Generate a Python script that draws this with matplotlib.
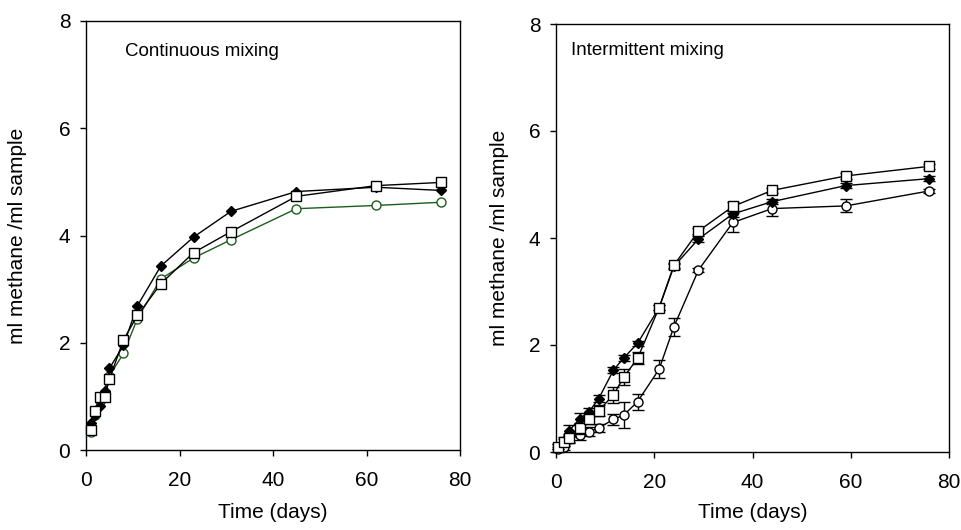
import matplotlib
matplotlib.use("Agg")
import matplotlib.pyplot as plt

plt.rcParams['font.family'] = ['Liberation Sans', 'DejaVu Sans']

# ---- Continuous mixing (left) ----
days_c = [1, 2, 3, 4, 5, 8, 11, 16, 23, 31, 45, 62, 76]
c_diamond = [0.50, 0.65, 0.82, 1.10, 1.52, 1.95, 2.69, 3.43, 3.97, 4.45, 4.82, 4.90, 4.84]
c_square = [0.37, 0.72, 0.98, 0.98, 1.32, 2.05, 2.51, 3.10, 3.68, 4.07, 4.73, 4.93, 4.99]
c_circle = [0.33, 0.66, 0.92, 1.00, 1.38, 1.80, 2.45, 3.19, 3.58, 3.92, 4.50, 4.56, 4.62]

# ---- Intermittent mixing (right) ----
days_i = [0.5, 1.6, 2.7, 4.8, 6.7, 8.7, 11.7, 13.8, 16.6, 21, 24, 29, 36, 44, 59, 76]
i_diamond = [0.10, 0.20, 0.40, 0.62, 0.75, 1.00, 1.53, 1.76, 2.03, 2.70, 3.47, 3.98, 4.45, 4.68, 4.98, 5.11]
i_diamond_err = [0.05, 0.08, 0.10, 0.10, 0.08, 0.06, 0.06, 0.06, 0.05, 0.05, 0.05, 0.05, 0.05, 0.05, 0.05, 0.05]
i_square = [0.10, 0.18, 0.26, 0.44, 0.62, 0.77, 1.07, 1.40, 1.75, 2.70, 3.49, 4.13, 4.59, 4.89, 5.16, 5.34]
i_square_err = [0.05, 0.06, 0.08, 0.10, 0.10, 0.10, 0.15, 0.15, 0.11, 0.05, 0.05, 0.05, 0.08, 0.05, 0.05, 0.05]
i_circle = [0.05, 0.10, 0.24, 0.31, 0.38, 0.45, 0.61, 0.69, 0.94, 1.55, 2.34, 3.40, 4.29, 4.55, 4.60, 4.88]
i_circle_err = [0.05, 0.06, 0.08, 0.08, 0.08, 0.08, 0.10, 0.25, 0.15, 0.17, 0.17, 0.03, 0.17, 0.13, 0.12, 0.03]

xticks = [0, 20, 40, 60, 80]
yticks = [0, 2, 4, 6, 8]
xlabel = "Time (days)"
ylabel = "ml methane /ml sample"

fig = plt.figure(figsize=(9.61, 5.30), dpi=100)
ax1 = fig.add_axes([86/961, 1-450/530, 374/961, 429/530])
ax2 = fig.add_axes([556/961, 1-452/530, 393/961, 428/530])

green = '#1d5c1d'
ms = 6.5
lw = 1.0

ax1.plot(days_c, c_circle, color=green, lw=lw, marker='o', ms=ms, mfc='white', mec=green, mew=1.0, zorder=3)
ax1.plot(days_c, c_diamond, color='black', lw=lw, marker='D', ms=ms*0.85, mfc='black', mec='black', zorder=4)
ax1.plot(days_c, c_square, color='black', lw=lw, marker='s', ms=ms, mfc='white', mec='black', mew=1.0, zorder=5)

ekw = dict(capsize=4.5, elinewidth=1.0, capthick=1.0, ecolor='black')
ax2.errorbar(days_i, i_circle, yerr=i_circle_err, color='black', lw=lw, marker='o', ms=ms, mfc='white',
             mec='black', mew=1.0, zorder=3, **ekw)
ax2.errorbar(days_i, i_diamond, yerr=i_diamond_err, color='black', lw=lw, marker='D', ms=ms*0.85, mfc='black',
             mec='black', zorder=4, **ekw)
ax2.errorbar(days_i, i_square, yerr=i_square_err, color='black', lw=lw, marker='s', ms=ms, mfc='white',
             mec='black', mew=1.0, zorder=5, **ekw)

for ax, ylc, xlc in [(ax1, -0.158, -0.124), (ax2, -0.12, -0.12)]:
    ax.set_xlim(0, 80)
    ax.set_ylim(0, 8)
    ax.set_xticks(xticks)
    ax.set_yticks(yticks)
    ax.tick_params(axis='both', direction='out', length=4.3, width=1.0, labelsize=15)
    ax.tick_params(axis='x', pad=11)
    ax.tick_params(axis='y', pad=7)
    for s in ax.spines.values():
        s.set_linewidth(1.0)
    ax.set_xlabel(xlabel, fontsize=15)
    ax.set_ylabel(ylabel, fontsize=15)
    ax.yaxis.set_label_coords(ylc, 0.5)
    ax.xaxis.set_label_coords(0.5, xlc)

ax1.text(0.104, 0.928, "Continuous mixing", transform=ax1.transAxes, fontsize=13.5, va='center', ha='left')
ax2.text(0.038, 0.937, "Intermittent mixing", transform=ax2.transAxes, fontsize=13.5, va='center', ha='left')

for ax in (ax1, ax2):
    for line in ax.lines:
        line.set_clip_on(False)

fig.savefig("out.png", dpi=100)
